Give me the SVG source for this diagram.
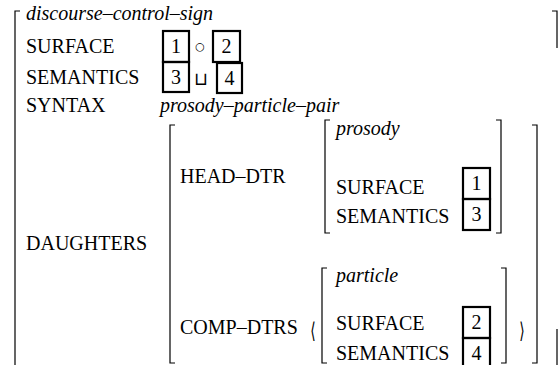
<svg xmlns="http://www.w3.org/2000/svg" width="558" height="365" viewBox="0 0 558 365">
  <style>
    .t { font-family: "Liberation Serif", "Times New Roman", serif; font-size: 20px; fill: #000; }
    .it { font-style: italic; }
    .sym { font-family: "DejaVu Sans", sans-serif; font-size: 18px; fill: #000; text-anchor: middle; }
    .ring { font-size: 11px; }
    .ang { font-family: "DejaVu Sans", sans-serif; font-size: 20px; fill: #000; text-anchor: middle; }
    .br { fill: none; stroke: #000; stroke-width: 1.2; }
    .tag { fill: none; stroke: #000; stroke-width: 2.2; }
    .num { text-anchor: middle; }
  </style>

  <!-- outer feature structure -->
  <g id="outer-avm">
    <path class="br" d="M20,11 H15 V365"/>
    <path class="br" d="M552,11 H557 V48 M557,329 V365"/>
    <text class="t it" x="26" y="20">discourse–control–sign</text>
    <text class="t" x="26" y="53">SURFACE</text>
    <text class="t" x="26" y="84">SEMANTICS</text>
    <text class="t" x="26" y="112">SYNTAX</text>
    <text class="t" x="26" y="250">DAUGHTERS</text>
    <text class="t it" x="160" y="112">prosody–particle–pair</text>
  </g>

  <!-- SURFACE value: 1 ∘ 2 -->
  <g id="surface-value">
    <rect class="tag" x="163" y="31" width="26" height="31"/>
    <text class="t num" x="176" y="53">1</text>
    <text class="sym ring" x="200" y="50">○</text>
    <rect class="tag" x="213" y="31" width="27" height="31"/>
    <text class="t num" x="226.5" y="53">2</text>
  </g>

  <!-- SEMANTICS value: 3 ⊔ 4 -->
  <g id="semantics-value">
    <rect class="tag" x="163" y="62" width="26" height="30"/>
    <text class="t num" x="176" y="84">3</text>
    <text class="sym" x="201" y="85">⊔</text>
    <rect class="tag" x="217" y="63" width="25" height="30"/>
    <text class="t num" x="229.5" y="85">4</text>
  </g>

  <!-- DAUGHTERS value -->
  <g id="daughters">
    <path class="br" d="M175,125 H170 V363 H175"/>
    <path class="br" d="M532,125 H537 V363 H532"/>
    <text class="t" x="180" y="183">HEAD–DTR</text>
    <text class="t" x="180" y="334">COMP–DTRS</text>
    <!-- list delimiters, narrowed to the thin TeX angle shape -->
    <text class="ang" transform="translate(313,338) scale(0.7,1.1)">⟨</text>
    <text class="ang" transform="translate(522,338) scale(0.7,1.1)">⟩</text>
  </g>

  <!-- head daughter -->
  <g id="head-dtr">
    <path class="br" d="M330,120 H325 V233 H330"/>
    <path class="br" d="M496,120 H501 V233 H496"/>
    <text class="t it" x="336" y="135">prosody</text>
    <text class="t" x="336" y="194">SURFACE</text>
    <text class="t" x="336" y="223">SEMANTICS</text>
    <rect class="tag" x="463" y="168" width="27" height="31"/>
    <text class="t num" x="476.5" y="190">1</text>
    <rect class="tag" x="463" y="199" width="27" height="31"/>
    <text class="t num" x="476.5" y="221">3</text>
  </g>

  <!-- complement daughter -->
  <g id="comp-dtr">
    <path class="br" d="M327,268 H322 V363 H327"/>
    <path class="br" d="M501,268 H506 V363 H501"/>
    <text class="t it" x="336" y="282">particle</text>
    <text class="t" x="336" y="330">SURFACE</text>
    <text class="t" x="336" y="360">SEMANTICS</text>
    <rect class="tag" x="463" y="307" width="27" height="31"/>
    <text class="t num" x="476.5" y="329">2</text>
    <rect class="tag" x="463" y="338" width="27" height="31"/>
    <text class="t num" x="476.5" y="360">4</text>
  </g>

  <g id="connectors"/>
</svg>
